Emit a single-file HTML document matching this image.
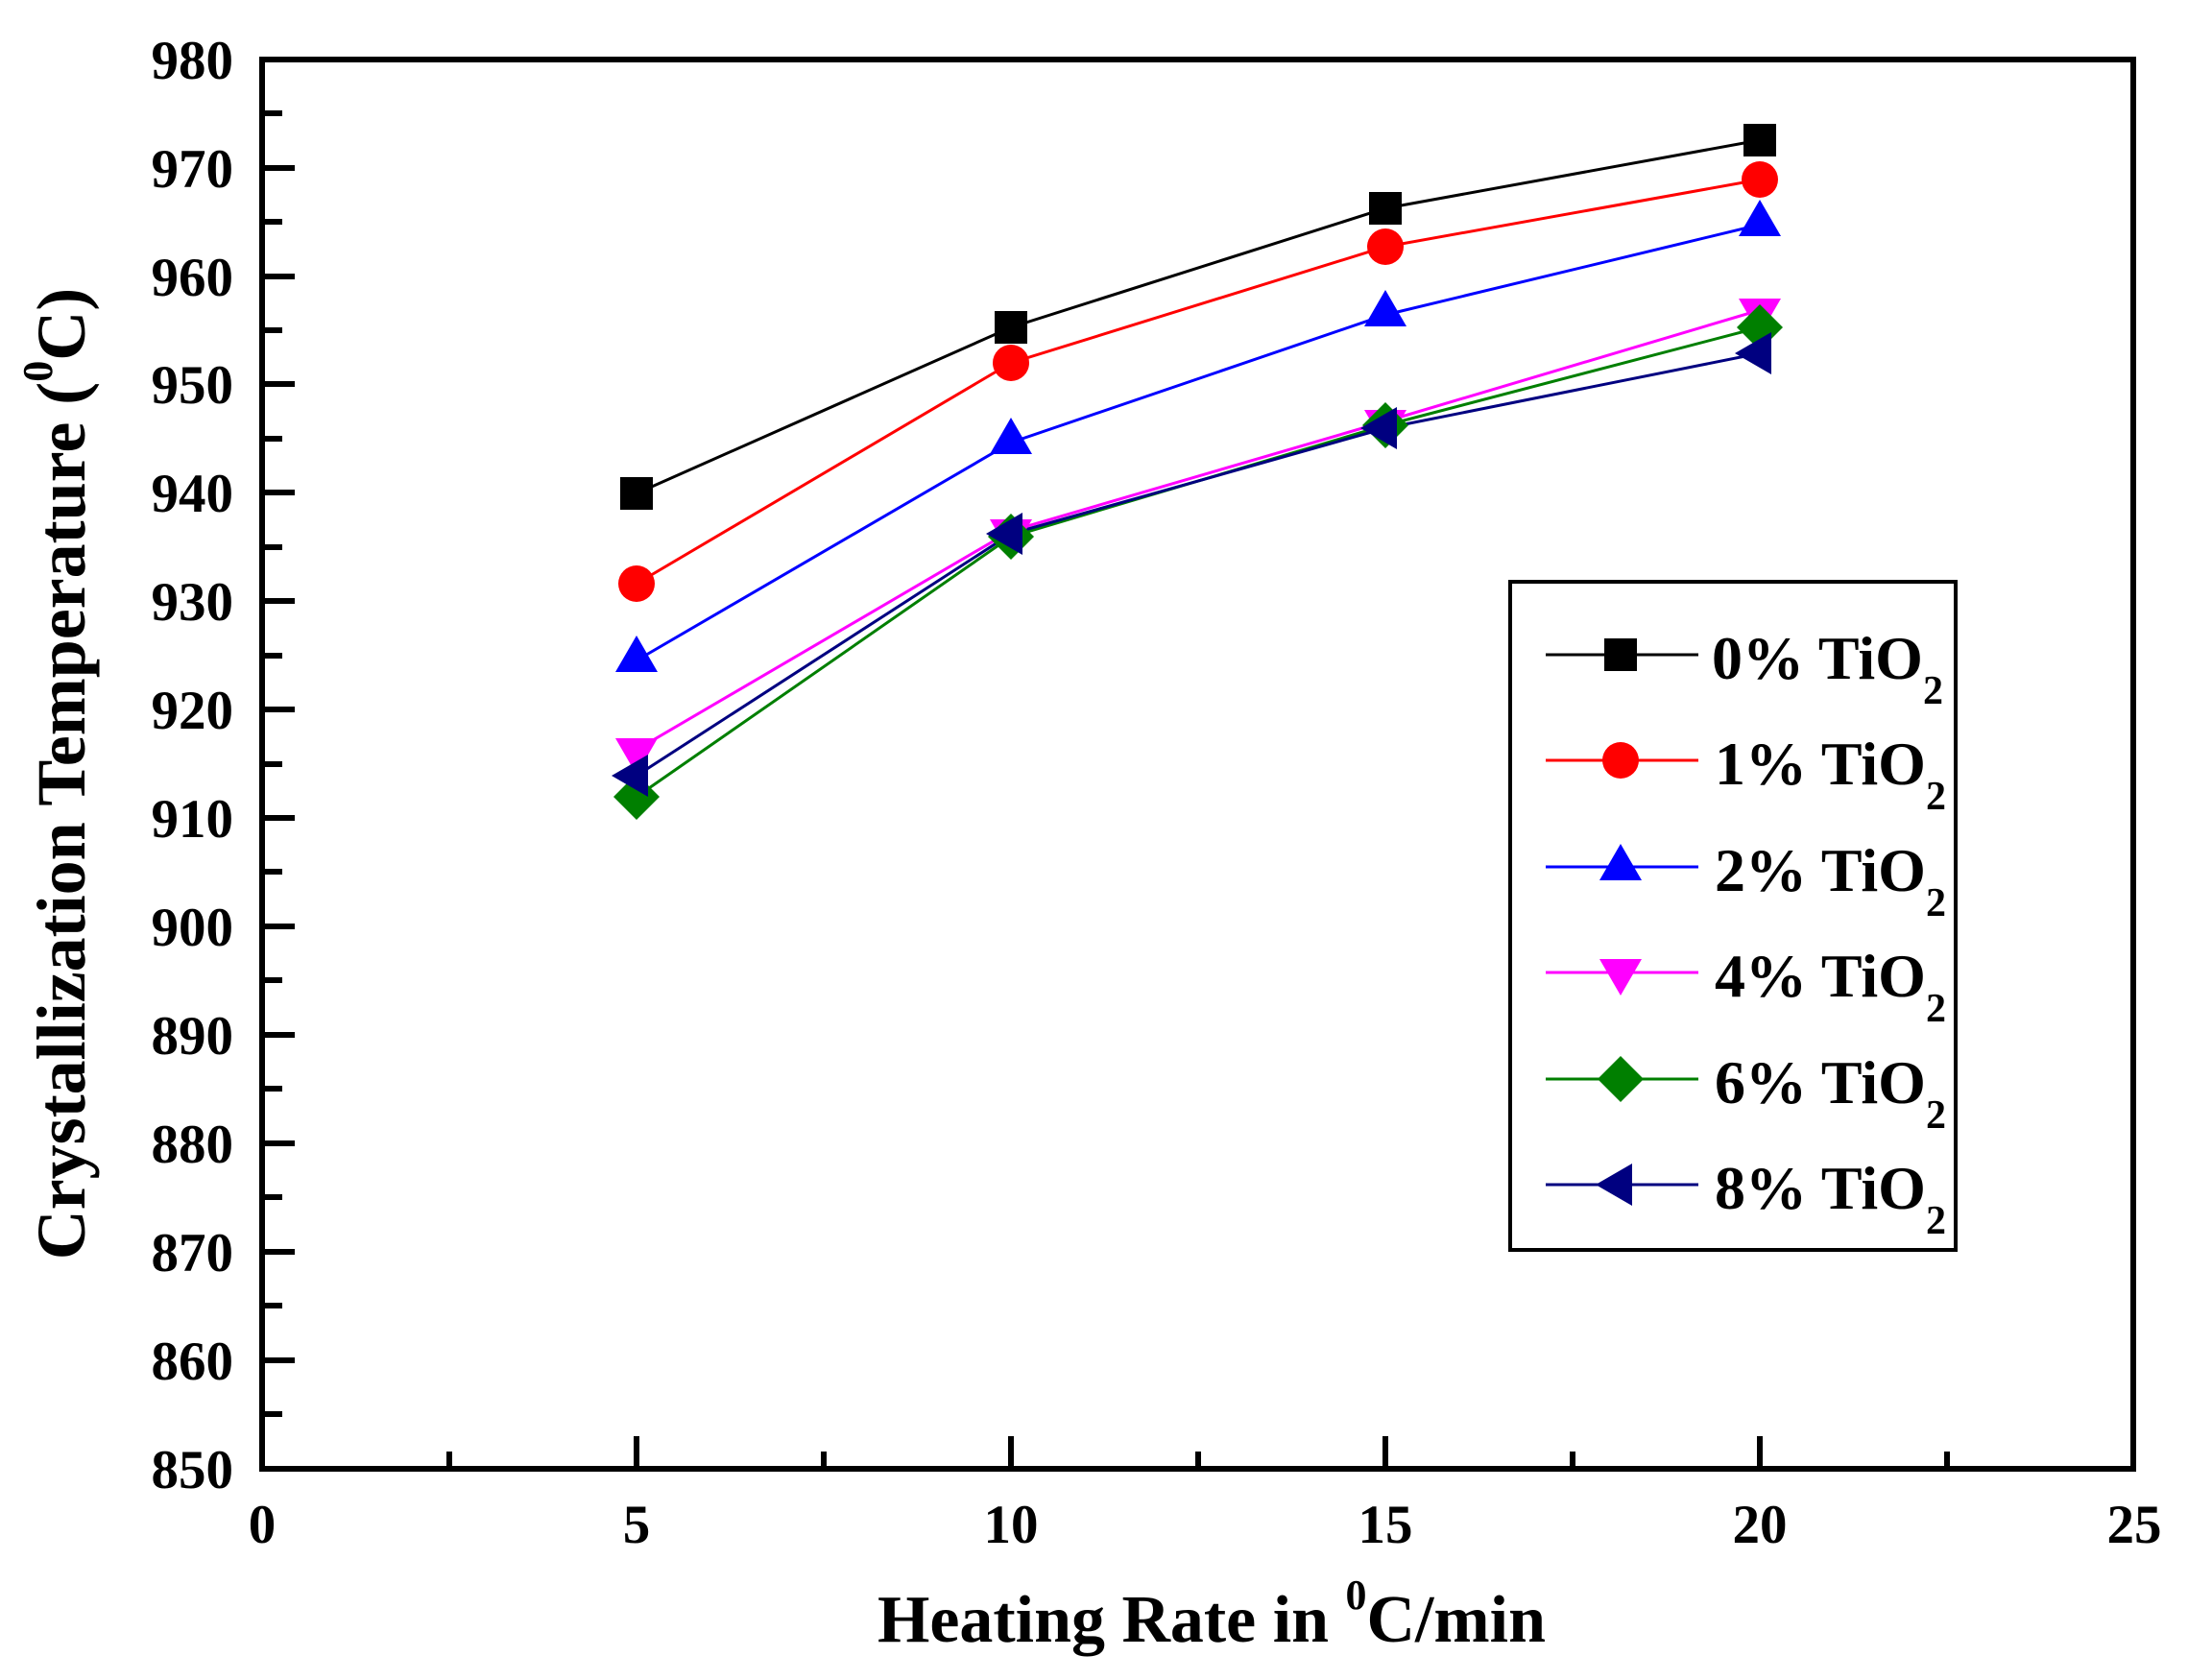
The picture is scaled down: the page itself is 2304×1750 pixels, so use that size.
<!DOCTYPE html>
<html><head><meta charset="utf-8"><style>
html,body{margin:0;padding:0;background:#fff;}
svg{display:block;}
text{font-family:"Liberation Serif",serif;font-weight:bold;fill:#000;}
</style></head><body>
<svg width="2304" height="1750" viewBox="0 0 2304 1750" xmlns="http://www.w3.org/2000/svg">
<defs>
<rect id="sq" x="-17" y="-17" width="34" height="34"/>
<circle id="ci" r="19"/>
<polygon id="tu" points="0,-26 22,12 -22,12"/>
<polygon id="td" points="0,26 22,-12 -22,-12"/>
<polygon id="di" points="0,-24 24,0 0,24 -24,0"/>
<polygon id="tl" points="-26,0 12,-22 12,22"/>
</defs>
<g stroke="#000" stroke-width="6" stroke-linecap="square">
<line x1="273" y1="175" x2="304" y2="175"/><line x1="273" y1="288" x2="304" y2="288"/>
<line x1="273" y1="400" x2="304" y2="400"/><line x1="273" y1="513" x2="304" y2="513"/>
<line x1="273" y1="626" x2="304" y2="626"/><line x1="273" y1="739" x2="304" y2="739"/>
<line x1="273" y1="852" x2="304" y2="852"/><line x1="273" y1="965" x2="304" y2="965"/>
<line x1="273" y1="1078" x2="304" y2="1078"/><line x1="273" y1="1191" x2="304" y2="1191"/>
<line x1="273" y1="1304" x2="304" y2="1304"/><line x1="273" y1="1417" x2="304" y2="1417"/>
<line x1="273" y1="118" x2="291" y2="118"/><line x1="273" y1="231" x2="291" y2="231"/>
<line x1="273" y1="344" x2="291" y2="344"/><line x1="273" y1="457" x2="291" y2="457"/>
<line x1="273" y1="570" x2="291" y2="570"/><line x1="273" y1="683" x2="291" y2="683"/>
<line x1="273" y1="796" x2="291" y2="796"/><line x1="273" y1="908" x2="291" y2="908"/>
<line x1="273" y1="1021" x2="291" y2="1021"/><line x1="273" y1="1134" x2="291" y2="1134"/>
<line x1="273" y1="1247" x2="291" y2="1247"/><line x1="273" y1="1360" x2="291" y2="1360"/>
<line x1="273" y1="1473" x2="291" y2="1473"/>
<line x1="663" y1="1530" x2="663" y2="1499"/><line x1="1053" y1="1530" x2="1053" y2="1499"/>
<line x1="1443" y1="1530" x2="1443" y2="1499"/><line x1="1833" y1="1530" x2="1833" y2="1499"/>
<line x1="468" y1="1530" x2="468" y2="1515"/><line x1="858" y1="1530" x2="858" y2="1515"/>
<line x1="1248" y1="1530" x2="1248" y2="1515"/><line x1="1638" y1="1530" x2="1638" y2="1515"/>
<line x1="2028" y1="1530" x2="2028" y2="1515"/>
<rect x="273" y="62" width="1949" height="1468" fill="none" stroke-linecap="butt"/>
</g>
<g font-size="57" text-anchor="end">
<text x="243" y="82">980</text><text x="243" y="195">970</text><text x="243" y="308">960</text>
<text x="243" y="420">950</text><text x="243" y="533">940</text><text x="243" y="646">930</text>
<text x="243" y="759">920</text><text x="243" y="872">910</text><text x="243" y="985">900</text>
<text x="243" y="1098">890</text><text x="243" y="1211">880</text><text x="243" y="1324">870</text>
<text x="243" y="1437">860</text><text x="243" y="1550">850</text>
</g>
<g font-size="57" text-anchor="middle">
<text x="273" y="1607">0</text><text x="663" y="1607">5</text><text x="1053" y="1607">10</text>
<text x="1443" y="1607">15</text><text x="1833" y="1607">20</text><text x="2223" y="1607">25</text>
</g>
<text x="1262" y="1710" font-size="70" text-anchor="middle" textLength="696" lengthAdjust="spacingAndGlyphs">Heating Rate in <tspan font-size="44" dy="-34">0</tspan><tspan dy="34">C/min</tspan></text>
<text transform="translate(88,806) rotate(-90)" font-size="72" text-anchor="middle">Crystallization Temperature (<tspan font-size="44" dy="-34">0</tspan><tspan dy="34">C)</tspan></text>
<g fill="none" stroke-width="3">
<polyline stroke="#000" points="663,514 1053,341 1443,217 1833,146"/>
<polyline stroke="#f00" points="663,608 1053,378 1443,257 1833,187"/>
<polyline stroke="#00f" points="663,688 1053,461 1443,328 1833,234"/>
<polyline stroke="#f0f" points="663,781 1053,553 1443,439 1833,323"/>
<polyline stroke="#007f00" points="663,830 1053,559 1443,443 1833,341"/>
<polyline stroke="#000080" points="663,808 1053,556 1443,446 1833,368"/>
</g>
<g fill="#000"><use href="#sq" x="663" y="514"/><use href="#sq" x="1053" y="341"/><use href="#sq" x="1443" y="217"/><use href="#sq" x="1833" y="146"/></g>
<g fill="#f00"><use href="#ci" x="663" y="608"/><use href="#ci" x="1053" y="378"/><use href="#ci" x="1443" y="257"/><use href="#ci" x="1833" y="187"/></g>
<g fill="#00f"><use href="#tu" x="663" y="688"/><use href="#tu" x="1053" y="461"/><use href="#tu" x="1443" y="328"/><use href="#tu" x="1833" y="234"/></g>
<g fill="#f0f"><use href="#td" x="663" y="781"/><use href="#td" x="1053" y="553"/><use href="#td" x="1443" y="439"/><use href="#td" x="1833" y="323"/></g>
<g fill="#007f00"><use href="#di" x="663" y="830"/><use href="#di" x="1053" y="559"/><use href="#di" x="1443" y="443"/><use href="#di" x="1833" y="341"/></g>
<g fill="#000080"><use href="#tl" x="663" y="808"/><use href="#tl" x="1053" y="556"/><use href="#tl" x="1443" y="446"/><use href="#tl" x="1833" y="368"/></g>
<rect x="1573" y="606" width="464" height="696" fill="none" stroke="#000" stroke-width="4"/>
<g stroke-width="3">
<line x1="1610" y1="682" x2="1769" y2="682" stroke="#000"/>
<line x1="1610" y1="792" x2="1769" y2="792" stroke="#f00"/>
<line x1="1610" y1="903" x2="1769" y2="903" stroke="#00f"/>
<line x1="1610" y1="1013" x2="1769" y2="1013" stroke="#f0f"/>
<line x1="1610" y1="1124" x2="1769" y2="1124" stroke="#007f00"/>
<line x1="1610" y1="1234" x2="1769" y2="1234" stroke="#000080"/>
</g>
<use href="#sq" x="1688" y="682" fill="#000"/>
<use href="#ci" x="1688" y="792" fill="#f00"/>
<use href="#tu" x="1688" y="905" fill="#00f"/>
<use href="#td" x="1688" y="1011" fill="#f0f"/>
<use href="#di" x="1688" y="1124" fill="#007f00"/>
<use href="#tl" x="1688" y="1234" fill="#000080"/>
<g font-size="64">
<text x="1783" y="707">0% TiO<tspan font-size="42" dy="26">2</tspan></text>
<text x="1786" y="817">1% TiO<tspan font-size="42" dy="26">2</tspan></text>
<text x="1786" y="928">2% TiO<tspan font-size="42" dy="26">2</tspan></text>
<text x="1786" y="1038">4% TiO<tspan font-size="42" dy="26">2</tspan></text>
<text x="1786" y="1149">6% TiO<tspan font-size="42" dy="26">2</tspan></text>
<text x="1786" y="1259">8% TiO<tspan font-size="42" dy="26">2</tspan></text>
</g>
</svg>
</body></html>
